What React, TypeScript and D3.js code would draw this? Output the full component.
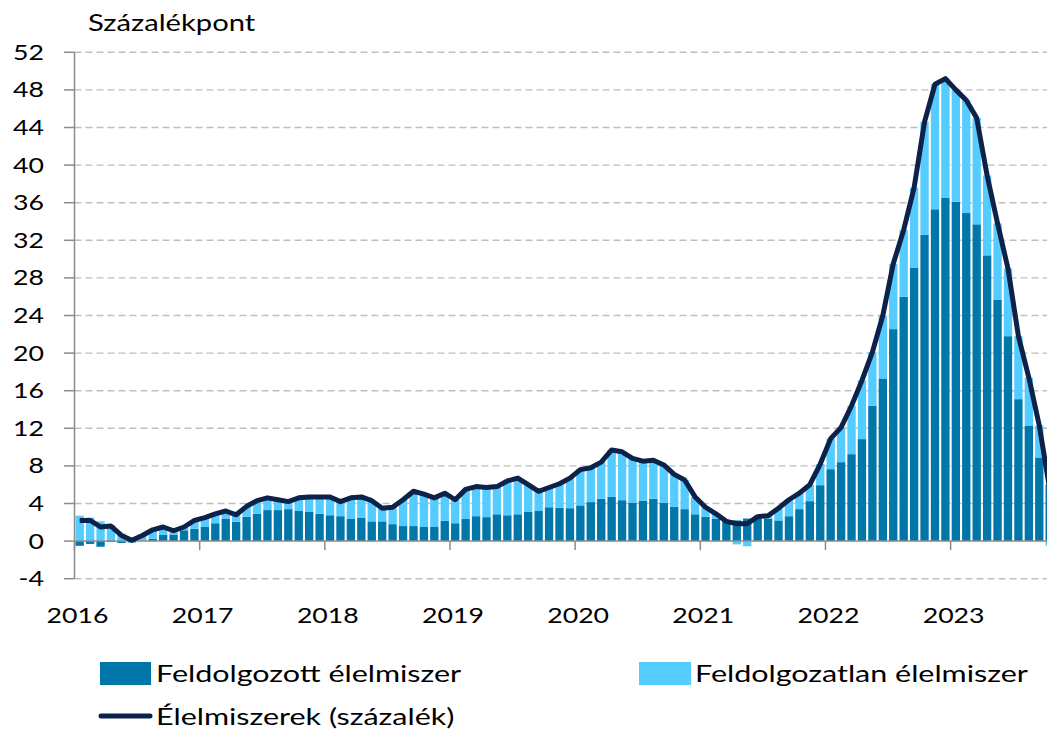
import React from "react";
import * as d3 from "d3";

const W = 1047;
const H = 733;

// tick labels / categories
const yearLabels = ["2016", "2017", "2018", "2019", "2020", "2021", "2022", "2023"];
const months = yearLabels
  .flatMap((y) => d3.range(1, 13).map((m) => `${y}-${String(m).padStart(2, "0")}`))
  .slice(0, 94); // 2016-01 .. 2023-10
const yTicks = [-4, 0, 4, 8, 12, 16, 20, 24, 28, 32, 36, 40, 44, 48, 52];

// contribution of processed food (percentage points)
const processed = [
  -0.5, -0.3, -0.6, -0.1, -0.2, -0.15, 0.05, 0.25, 0.65, 0.7, 1.15, 1.3,
  1.5, 1.9, 2.4, 2.05, 2.6, 2.9, 3.3, 3.3, 3.4, 3.2, 3.1, 2.9,
  2.75, 2.65, 2.35, 2.5, 2.1, 2.1, 1.8, 1.6, 1.6, 1.5, 1.5, 2.15,
  1.9, 2.35, 2.65, 2.55, 2.85, 2.75, 2.85, 3.1, 3.2, 3.6, 3.55, 3.5,
  3.8, 4.15, 4.5, 4.7, 4.35, 4.1, 4.3, 4.5, 4.05, 3.65, 3.4, 2.85,
  2.6, 2.4, 2.05, 2.2, 2.4, 2.4, 2.4, 2.2, 2.65, 3.4, 4.25, 5.95,
  7.65, 8.4, 9.25, 10.85, 14.4, 17.3, 22.55, 26.0, 29.1, 32.6, 35.3, 36.5,
  36.1, 34.9, 33.7, 30.4, 25.7, 21.8, 15.1, 12.3, 8.9, 6.0,
];

// contribution of unprocessed food (percentage points)
const unprocessed = [
  2.7, 2.5, 2.1, 1.7, 0.8, 0.25, 0.55, 0.95, 0.85, 0.4, 0.35, 0.9,
  1.0, 1.0, 0.8, 0.75, 1.1, 1.4, 1.3, 1.1, 0.8, 1.4, 1.6, 1.8,
  1.95, 1.55, 2.25, 2.2, 2.2, 1.4, 1.8, 2.8, 3.7, 3.5, 3.1, 2.95,
  2.5, 3.15, 3.15, 3.15, 2.95, 3.65, 3.85, 2.9, 2.1, 2.1, 2.55, 3.2,
  3.8, 3.65, 3.9, 5.0, 5.15, 4.7, 4.2, 4.1, 4.05, 3.45, 3.1, 1.85,
  1.0, 0.5, 0.05, -0.35, -0.55, 0.2, 0.3, 1.3, 1.75, 1.7, 1.75, 2.25,
  3.25, 3.7, 5.15, 6.25, 5.7, 6.7, 6.95, 7.1, 8.5, 12.0, 13.3, 12.7,
  11.9, 12.0, 11.3, 8.5, 8.1, 7.2, 6.7, 5.1, 3.4, -0.5,
];

// food inflation (percent)
const total = [
  2.2, 2.2, 1.5, 1.6, 0.6, 0.1, 0.6, 1.2, 1.5, 1.1, 1.5, 2.2,
  2.5, 2.9, 3.2, 2.8, 3.7, 4.3, 4.6, 4.4, 4.2, 4.6, 4.7, 4.7,
  4.7, 4.2, 4.6, 4.7, 4.3, 3.5, 3.6, 4.4, 5.3, 5.0, 4.6, 5.1,
  4.4, 5.5, 5.8, 5.7, 5.8, 6.4, 6.7, 6.0, 5.3, 5.7, 6.1, 6.7,
  7.6, 7.8, 8.4, 9.7, 9.5, 8.8, 8.5, 8.6, 8.1, 7.1, 6.5, 4.7,
  3.6, 2.9, 2.1, 1.85, 1.85, 2.6, 2.7, 3.5, 4.4, 5.1, 6.0, 8.2,
  10.9, 12.1, 14.4, 17.1, 20.1, 24.0, 29.5, 33.1, 37.6, 44.6, 48.6, 49.2,
  48.0, 46.9, 45.0, 38.9, 33.8, 29.0, 21.8, 17.4, 12.3, 5.5,
];

const C_DARK = "#0077a8";
const C_LIGHT = "#55ccff";
const C_LINE = "#0c2249";
const C_AXIS = "#8c8c8c";
const C_GRID = "#bfbfbf";
const FONT = "Lato, 'Open Sans', sans-serif";
const SX = 1.27; // original text is wide

const Txt = ({ x, y, size, anchor = "start", children }: any) => (
  <text
    transform={`translate(${x},${y}) scale(${SX},1)`}
    fontSize={size}
    textAnchor={anchor}
    fontFamily={FONT}
    fill="#000"
  >
    {children}
  </text>
);

export default function App() {
  const left = 74.5;
  const step = 10.43;

  const x = d3
    .scaleBand<string>()
    .domain(months)
    .range([left, left + months.length * step])
    .paddingInner(0.2)
    .paddingOuter(0.1);

  const y = d3.scaleLinear().domain([-4, 52]).range([578.7, 52.3]);

  const rows = months.map((m, i) => ({ m, processed: processed[i], unprocessed: unprocessed[i] }));
  const series = d3
    .stack<any>()
    .keys(["processed", "unprocessed"])
    .offset(d3.stackOffsetDiverging)(rows);
  const colors: Record<string, string> = { processed: C_DARK, unprocessed: C_LIGHT };

  const line = d3
    .line<number>()
    .x((_, i) => (x(months[i]) as number) + x.bandwidth() / 2)
    .y((d) => y(d));

  const tickX = (i: number) => (x(months[i]) as number) - (x.step() * x.paddingInner()) / 2;
  const y0 = y(0);

  return (
    <svg
      width={W}
      height={H}
      style={{ position: "absolute", left: 0, top: 0, background: "#fff" }}
    >
      <Txt x={88} y={31} size={23}>Százalékpont</Txt>

      {/* grid */}
      {yTicks.filter((t) => t !== 0).map((t) => (
        <line key={t} x1={left} x2={W} y1={y(t)} y2={y(t)} stroke={C_GRID} strokeWidth={1.4} strokeDasharray="7,4" />
      ))}

      {/* bars */}
      {series.map((s) => (
        <g key={s.key} fill={colors[s.key]}>
          {s.map((d, i) => (
            <rect
              key={i}
              x={x(months[i])}
              width={x.bandwidth()}
              y={y(Math.max(d[0], d[1]))}
              height={Math.abs(y(d[0]) - y(d[1]))}
            />
          ))}
        </g>
      ))}

      {/* axes */}
      <line x1={left} x2={left} y1={y(52)} y2={y(-4)} stroke={C_AXIS} strokeWidth={1.5} />
      {yTicks.map((t) => (
        <g key={t}>
          <line x1={64} x2={left} y1={y(t)} y2={y(t)} stroke={C_AXIS} strokeWidth={1.5} />
          <Txt x={44} y={y(t) + 7.5} size={21} anchor="end">{t}</Txt>
        </g>
      ))}
      <line x1={left} x2={W} y1={y0} y2={y0} stroke={C_AXIS} strokeWidth={1.5} />
      {yearLabels.map((lab, k) => (
        <g key={lab}>
          <line x1={tickX(k * 12)} x2={tickX(k * 12)} y1={y0} y2={y0 + 9} stroke={C_AXIS} strokeWidth={1.5} />
          <Txt x={tickX(k * 12) + 3} y={623} size={21} anchor="middle">{lab}</Txt>
        </g>
      ))}

      {/* line */}
      <path d={line(total) || ""} fill="none" stroke={C_LINE} strokeWidth={5} strokeLinejoin="round" />

      {/* legend */}
      <rect x={100} y={662} width={51} height={23} fill={C_DARK} />
      <Txt x={156} y={682} size={24}>Feldolgozott élelmiszer</Txt>
      <rect x={639} y={662} width={52} height={23} fill={C_LIGHT} />
      <Txt x={695} y={682} size={24}>Feldolgozatlan élelmiszer</Txt>
      <line x1={101} x2={150} y1={716} y2={716} stroke={C_LINE} strokeWidth={5} strokeLinecap="round" />
      <Txt x={156} y={725} size={24}>Élelmiszerek (százalék)</Txt>
    </svg>
  );
}
